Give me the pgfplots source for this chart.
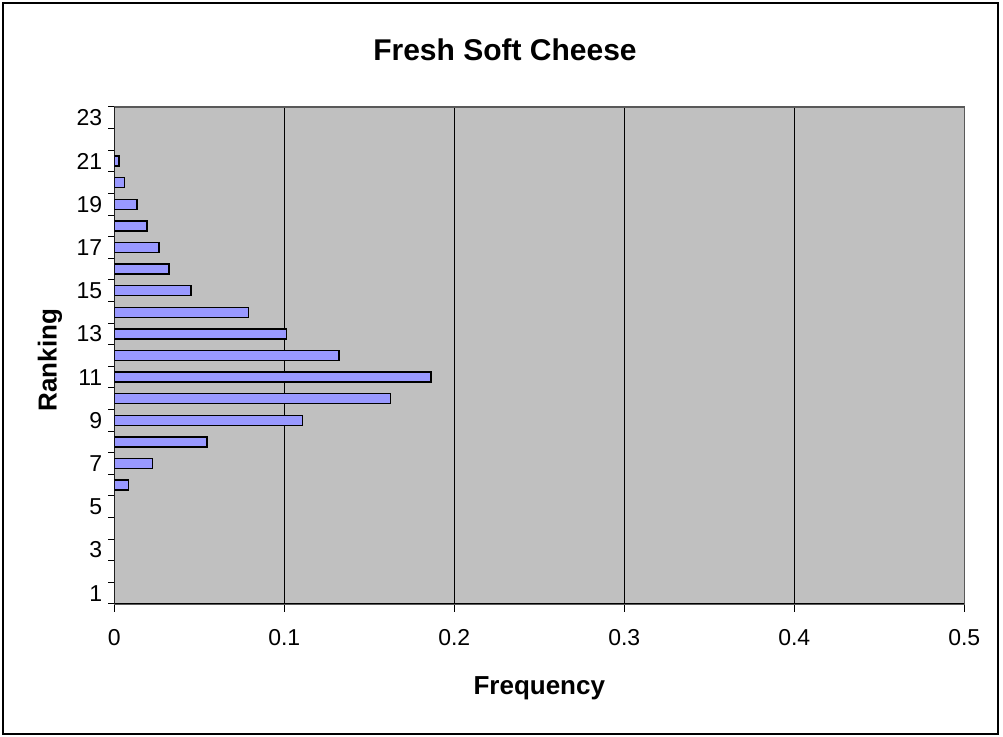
\documentclass[border=0pt]{standalone}
\usepackage{pgfplots}
\pgfplotsset{compat=1.18}
\usepackage{fontspec}
\setmainfont{Liberation Sans}
\definecolor{plotbg}{HTML}{C0C0C0}
\definecolor{barfill}{HTML}{9999FF}
\begin{document}
\begin{tikzpicture}[x=1pt,y=1pt]
\begin{axis}[
  at={(0pt,0pt)}, anchor=south west,
  scale only axis,
  width=425pt, height=248.5pt,
  xmin=0, xmax=0.5, ymin=0.5, ymax=23.5,
  xtick={0,0.1,...,0.5},
  ytick={1,3,...,23},
  minor ytick={0.5,1.5,...,23.5},
  major y tick style={draw=none},
  minor tick length=3pt,
  major tick length=4pt,
  tick align=outside,
  xtick pos=bottom, ytick pos=left,
  xmajorgrids, major x grid style={black, line width=0.5pt},
  axis line style={draw=gray!70!black, line width=0.6pt},
  tick style={black, line width=0.5pt},
  axis background/.style={fill=plotbg},
  /pgf/number format/assume math mode=true,
  xticklabel style={/pgf/number format/fixed, /pgf/number format/precision=1, font=\fontsize{11.5}{13}\selectfont, yshift=-5pt},
  yticklabel style={font=\fontsize{11.5}{13}\selectfont, xshift=1.5pt},
  xbar, bar width=5pt,
]
\addplot[fill=barfill, draw=black, line width=0.7pt] coordinates {
(0.0084,6) (0.0225,7) (0.0545,8) (0.1108,9) (0.1625,10) (0.1863,11)
(0.1322,12) (0.1014,13) (0.079,14) (0.0451,15) (0.0322,16) (0.0263,17)
(0.0192,18) (0.0133,19) (0.006,20) (0.0027,21)
};
\draw[black, line width=0.6pt] (rel axis cs:0,1) -- (rel axis cs:0,0) -- (rel axis cs:1,0);
\end{axis}
\node[font=\bfseries\fontsize{15}{17}\selectfont] at (195.35pt,277pt) {Fresh Soft Cheese};
\node[font=\bfseries\fontsize{13}{15}\selectfont, rotate=90] at (-32.15pt,122pt) {Ranking};
\node[font=\bfseries\fontsize{13}{15}\selectfont] at (212.5pt,-42pt) {Frequency};
\draw[black, line width=0.6pt] (-55.65pt,-65pt) rectangle (441.85pt,300.5pt);
\pgfresetboundingbox
\path (-57.15pt,-66.5pt) rectangle (444.35pt,302pt);
\end{tikzpicture}
\end{document}
